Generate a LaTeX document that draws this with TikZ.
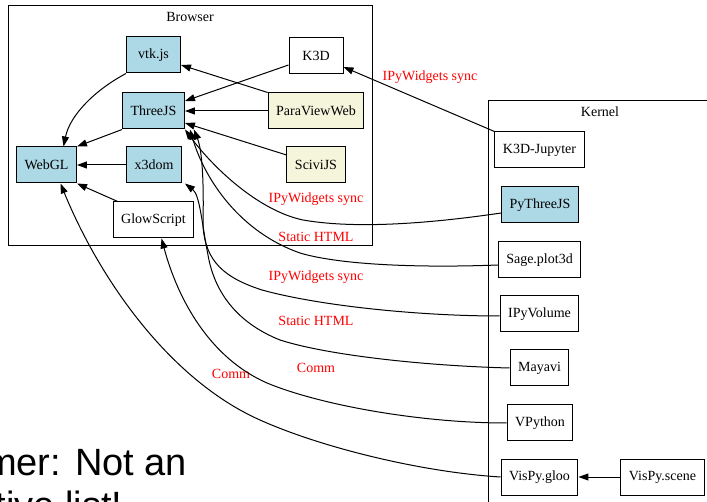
\documentclass[tikz,border=0pt]{standalone}
\usepackage{fontspec}
\setmainfont{Liberation Serif}
\newfontfamily\slidefont{Liberation Sans}
\usetikzlibrary{arrows.meta}
\definecolor{lightblue}{HTML}{ADD8E6}
\definecolor{beige}{HTML}{F5F5DC}
\begin{document}
\begin{tikzpicture}[x=1pt,y=-1pt,font=\fontsize{14}{16}\selectfont,
  box/.style={draw,line width=1pt,minimum width=54pt,minimum height=36pt,inner xsep=8pt},
  edge/.style={line width=1pt,-{Triangle[length=10pt,width=7pt]}},
  lbl/.style={text=red,inner sep=0pt}]
\useasboundingbox (0,0) rectangle (707,502);

\draw[line width=1pt] (8,6) rectangle (372,246);
\node (browser) at (190,17) {Browser};
\draw[line width=1pt] (488,101) rectangle (720,520);
\node (kernel) at (600,112) {Kernel};

\foreach \id/\txt/\x/\y/\col in {
vtk/vtk.js/153.5/55/lightblue,
k3d/K3D/316/56/white,
threejs/ThreeJS/153.5/111/lightblue,
paraview/ParaViewWeb/316/111/beige,
webgl/WebGL/46.5/165/lightblue,
x3dom/x3dom/154/165/lightblue,
scivijs/SciviJS/316/165/beige,
glowscript/GlowScript/153.5/220/white,
k3djup/K3D-Jupyter/539.5/150/white,
pythreejs/PyThreeJS/540/205/lightblue,
sage/Sage.plot3d/539.5/260/white,
ipyvolume/IPyVolume/539.5/314/white,
mayavi/Mayavi/539.5/368/white,
vpython/VPython/540/423/white,
vispygloo/VisPy.gloo/539.5/477/white,
vispyscene/VisPy.scene/662.5/477/white}{
  \node[box,fill=\col] (\id) at (\x,\y) {\txt};
}

\foreach \id/\txt/\x/\y in {
lblk/IPyWidgets sync/430/77,
lblpy/IPyWidgets sync/316/199,
lblsage/Static HTML/316/237,
lblipv/IPyWidgets sync/316/277,
lblmay/Static HTML/316/321,
lblvp/Comm/316/368,
lblvis/Comm/231/374}{
  \node[lbl] (\id) at (\x,\y) {\txt};
}

\draw[edge] (vtk.south west) .. controls (95,90) and (70,115) .. ([xshift=17pt]webgl.north);
\draw[edge] (threejs.south west) -- (webgl.north east);
\draw[edge] (x3dom.west) -- (webgl.east);
\draw[edge] ([xshift=5pt]glowscript.north west) -- (webgl.south east);
\draw[edge] ([yshift=-9pt]k3d.west) -- ([yshift=10pt]threejs.east);
\draw[edge] (paraview.north west) -- ([yshift=-10pt]vtk.east);
\draw[edge] (paraview.west) -- (threejs.east);
\draw[edge] ([yshift=10pt]scivijs.west) -- ([yshift=-12pt]threejs.east);
\draw[edge] (k3djup.north west) -- ([yshift=-11pt]k3d.east);
\draw[edge] ([yshift=-8pt]pythreejs.west) .. controls (440,222) and (360,230) .. (303,220)
  .. controls (260,211) and (215,170) .. (threejs.south east);
\draw[edge] ([yshift=-5pt]sage.west) .. controls (420,268) and (340,265) .. (300,253)
  .. controls (240,232) and (205,180) .. ([xshift=5pt]threejs.south east);
\draw[edge] ([yshift=-2pt]ipyvolume.west) .. controls (420,316) and (320,306) .. (262,290)
  .. controls (225,278) and (205,262) .. (203,225)
  .. controls (204,180) and (202,150) .. ([xshift=9pt]threejs.south east);
\draw[edge] (mayavi.west) .. controls (430,366) and (330,356) .. (280,340)
  .. controls (235,322) and (214,290) .. (208,255)
  .. controls (202,225) and (200,195) .. ([xshift=3pt]x3dom.south east);
\draw[edge] (vpython.west) .. controls (420,423) and (320,405) .. (267,383)
  .. controls (210,358) and (178,300) .. ([xshift=8pt]glowscript.south);
\draw[edge] (vispygloo.west) .. controls (420,472) and (320,447) .. (260,420)
  .. controls (170,380) and (100,280) .. ([xshift=14pt]webgl.south);
\draw[edge] (vispyscene.west) -- (vispygloo.east);

\node[font=\slidefont\fontsize{38}{43}\selectfont,align=left,anchor=base west,inner sep=0pt]
  (disclaimer) at (-127,518) {Disclaimer: Not an\\exhaustive list!};
\end{tikzpicture}
\end{document}
